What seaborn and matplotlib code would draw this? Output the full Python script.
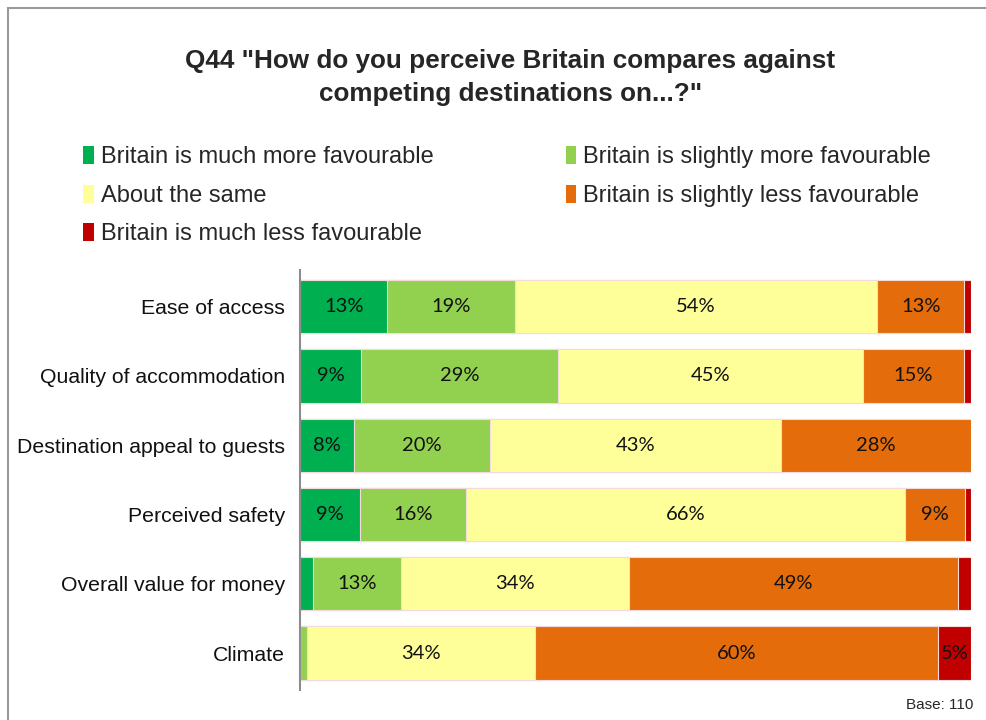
import numpy as np
import pandas as pd
import matplotlib
matplotlib.use("Agg")
import matplotlib.pyplot as plt
from matplotlib.patches import Patch, Rectangle
import seaborn as sns

# Survey data (percent of respondents)
aspects = ["Ease of access", "Quality of accommodation", "Destination appeal to guests",
           "Perceived safety", "Overall value for money", "Climate"]
responses = ["Britain is much more favourable", "Britain is slightly more favourable",
             "About the same", "Britain is slightly less favourable",
             "Britain is much less favourable"]
much_more = [13, 9, 8, 9, 2, 0]
slightly_more = [19, 29, 20, 16, 13, 1]
about_same = [54, 45, 43, 66, 34, 34]
slightly_less = [13, 15, 28, 9, 49, 60]
much_less = [1, 1, 0, 1, 2, 5]
colors = ["#00B050", "#92D050", "#FFFF99", "#E46C0A", "#C00000"]

sns.set_theme(style="white")
plt.rcParams["font.family"] = ["Liberation Sans", "DejaVu Sans"]

df = pd.DataFrame({"aspect": aspects, responses[0]: much_more, responses[1]: slightly_more,
                   responses[2]: about_same, responses[3]: slightly_less,
                   responses[4]: much_less})
vals = df[responses].to_numpy(dtype=float)
# 100% stacked: each row is scaled to its total
shares = vals / vals.sum(axis=1, keepdims=True) * 100
cum = np.cumsum(shares, axis=1)

fig = plt.figure(figsize=(9.87, 7.2), dpi=100)
ax = fig.add_axes([0.304, 0.042, 0.680, 0.583])

# draw cumulative totals from the outermost segment inwards
for i in range(len(responses) - 1, -1, -1):
    sns.barplot(x=cum[:, i], y=aspects, orient="h", color=colors[i], ax=ax,
                width=0.77, saturation=1, linewidth=0.8, edgecolor="#f4dada")

for r in range(len(aspects)):
    for i in range(len(responses)):
        v = vals[r, i]
        if v >= 5:
            left = cum[r, i] - shares[r, i]
            ax.text(left + shares[r, i] / 2, r, f"{int(v)}%", ha="center", va="center",
                    fontsize=14.5, family=["Lato", "DejaVu Sans"], color="#111111")

ax.set_xlim(0, 100)
ax.set_ylim(5.53, -0.53)
ax.set_xticks([])
ax.set_xlabel("")
ax.set_ylabel("")
ax.tick_params(axis="y", length=0, pad=11, labelsize=15.3, labelcolor="#111111")
for s in ["top", "right", "bottom"]:
    ax.spines[s].set_visible(False)
ax.spines["left"].set_color("#8c8c8c")
ax.spines["left"].set_linewidth(1.5)

fig.text(0.517, 0.892, 'Q44 "How do you perceive Britain compares against\ncompeting destinations on...?"',
         ha="center", va="center", fontsize=18.8, fontweight="bold", linespacing=1.45)

handles = [Patch(facecolor=c, edgecolor="none") for c in colors]
order = [0, 2, 4, 1, 3]
fig.legend([handles[k] for k in order], [responses[k] for k in order], ncol=2,
           loc="upper left", bbox_to_anchor=(0.084, 0.797), frameon=False,
           fontsize=17, handlelength=0.45, handleheight=0.8, handletextpad=0.3,
           labelspacing=0.69, columnspacing=5.6, borderpad=0, borderaxespad=0)

fig.text(0.986, 0.021, "Base: 110", ha="right", va="center", fontsize=11)

fig.patches.append(Rectangle((8 / 987, -0.1), 1.2, 1 - 8 / 720 + 0.1, transform=fig.transFigure,
                             fill=False, edgecolor="#9a9a9a", linewidth=1.5))

fig.savefig("out.png", dpi=100)
